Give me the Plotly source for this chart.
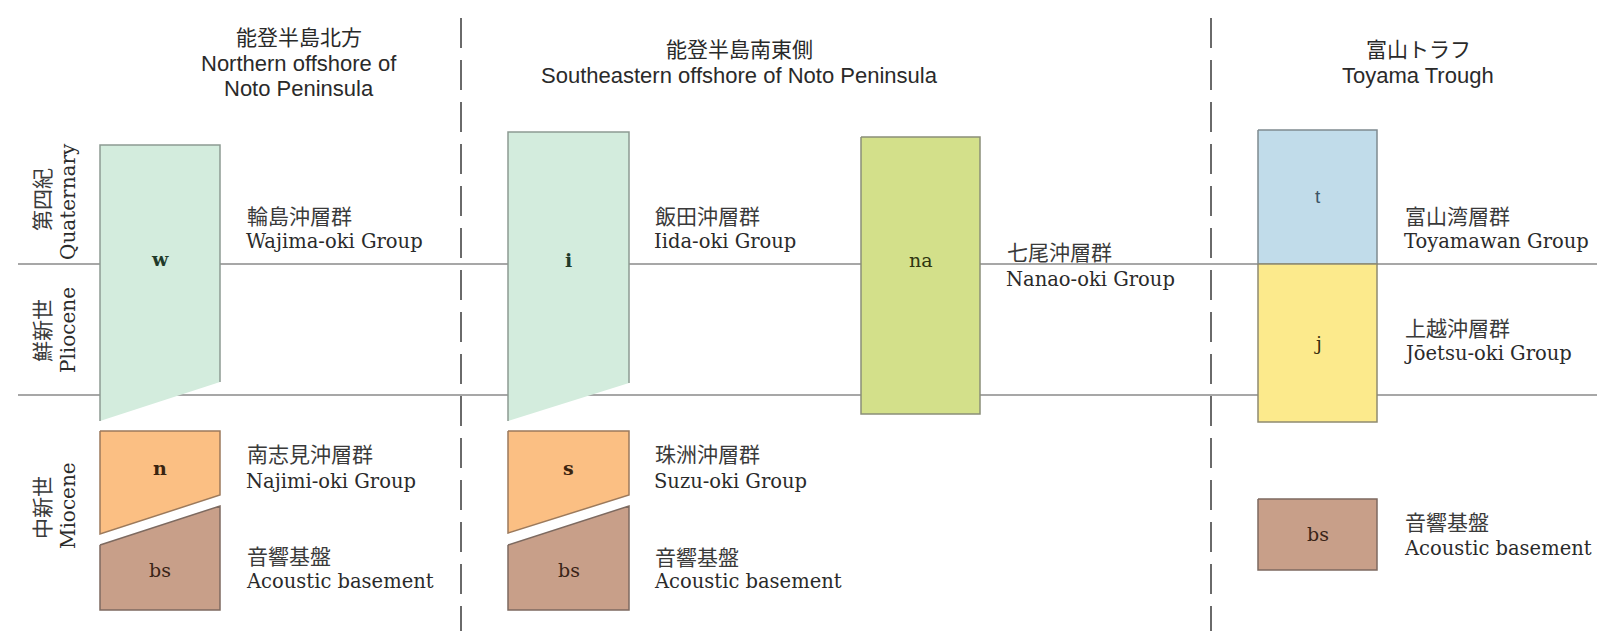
import plotly.graph_objects as go

# ---------------- data ----------------
# stratigraphic units: code, horizontal extent and top/bottom edges (left / right side)
unit_codes = ["w", "i", "na", "t", "j", "n", "s", "bs", "bs", "bs"]
unit_kind = ["wi", "wi", "na", "t", "j", "ns", "ns", "bs", "bs", "bs"]
unit_x_left = [92, 500, 853, 1250, 1250, 92, 500, 92, 500, 1250]
unit_x_right = [212, 621, 972, 1369, 1369, 212, 621, 212, 621, 1369]
unit_top_left = [137, 124, 129, 122, 256, 423, 423, 537, 537, 491]
unit_top_right = [137, 124, 129, 122, 256, 423, 423, 498, 498, 491]
unit_bot_left = [413, 413, 406, 256, 414, 526, 525, 602, 602, 562]
unit_bot_right = [374, 375, 406, 256, 414, 487, 487, 602, 602, 562]
unit_label_y = [251, 252, 252, 188, 335, 460, 460, 562, 562, 526]

# group names
group_jp = ["輪島沖層群", "飯田沖層群", "七尾沖層群", "富山湾層群", "上越沖層群",
            "南志見沖層群", "珠洲沖層群", "音響基盤", "音響基盤", "音響基盤"]
group_en = ["Wajima-oki Group", "Iida-oki Group", "Nanao-oki Group", "Toyamawan Group",
            "Jōetsu-oki Group", "Najimi-oki Group", "Suzu-oki Group",
            "Acoustic basement", "Acoustic basement", "Acoustic basement"]
group_x = [237, 645, 997, 1395, 1395, 237, 645, 237, 645, 1395]
group_jp_y = [207, 207, 243, 207, 319, 445, 445, 547, 548, 513]
group_en_y = [233, 233, 271, 233, 345, 473, 473, 573, 573, 540]

# regions (column headers)
region_lines = [["能登半島北方", "Northern offshore of", "Noto Peninsula"],
                ["能登半島南東側", "Southeastern offshore of Noto Peninsula"],
                ["富山トラフ", "Toyama Trough"]]
region_x = [291, 731, 1410]
region_y = [[28, 55, 80], [40, 67], [40, 67]]
region_dividers = [453, 1203]

# epochs
epoch_jp = ["第四紀", "鮮新世", "中新世"]
epoch_en = ["Quaternary", "Pliocene", "Miocene"]
epoch_y_jp = [192, 323, 500]
epoch_y_en = [194, 322, 498]
epoch_boundaries = [256, 387]

# ---------------- style ----------------
fill_col = {"wi": "#d3ecdd", "ns": "#fbbf83", "bs": "#c89f89", "na": "#d3e08a",
            "t": "#c1dcea", "j": "#fcea8c"}
edge_col = {"wi": "#8d9a92", "ns": "#9c7a5c", "bs": "#7d6a60", "na": "#8a8f78",
            "t": "#7f8a90", "j": "#8f8a70"}
label_col = {"wi": "#1f3a2a", "ns": "#3a2410", "bs": "#3a2418", "na": "#2e3510",
             "t": "#3c5566", "j": "#3a3010"}
label_weight = {"wi": "bold", "ns": "bold", "bs": "normal", "na": "normal",
                "t": "normal", "j": "normal"}
SERIF = "DejaVu Serif"
SANS = "Liberation Sans"
JP = "Noto Sans CJK JP"

fig = go.Figure()
W, H = 1605, 631

# epoch boundary lines
for yb in epoch_boundaries:
    fig.add_trace(go.Scatter(x=[10, W], y=[yb, yb], mode="lines",
                             line=dict(color="#8a8a8a", width=1.6), hoverinfo="skip"))
# region dividers
for xd in region_dividers:
    fig.add_trace(go.Scatter(x=[xd, xd], y=[10, H], mode="lines",
                             line=dict(color="#6a6a6a", width=2, dash="30px,12px"),
                             hoverinfo="skip"))

# units
for k in range(len(unit_codes)):
    xl, xr = unit_x_left[k], unit_x_right[k]
    tl, tr, bl, br = unit_top_left[k], unit_top_right[k], unit_bot_left[k], unit_bot_right[k]
    kind = unit_kind[k]
    fig.add_trace(go.Scatter(x=[xl, xr, xr, xl, xl], y=[tl, tr, br, bl, tl],
                             mode="lines", fill="toself", fillcolor=fill_col[kind],
                             line=dict(width=0, color=fill_col[kind]), hoverinfo="skip"))
    if kind == "wi":
        ox, oy = [xl, xl, xr, xr], [bl, tl, tr, br]
    else:
        ox, oy = [xl, xr, xr, xl, xl], [tl, tr, br, bl, tl]
    fig.add_trace(go.Scatter(x=ox, y=oy, mode="lines",
                             line=dict(width=1.5, color=edge_col[kind]), hoverinfo="skip"))
    fig.add_annotation(x=(xl + xr) / 2, y=unit_label_y[k], text=unit_codes[k],
                       showarrow=False, xanchor="center", yanchor="middle",
                       font=dict(family=SANS if kind == "t" else SERIF,
                                 size=19, weight=label_weight[kind],
                                 color=label_col[kind]))

# group names
for k in range(len(group_jp)):
    fig.add_annotation(x=group_x[k], y=group_jp_y[k], text=group_jp[k], showarrow=False,
                       xanchor="left", yanchor="middle",
                       font=dict(family=JP, size=21, color="#3a3a3a"))
    fig.add_annotation(x=group_x[k] - 1, y=group_en_y[k], text=group_en[k], showarrow=False,
                       xanchor="left", yanchor="middle",
                       font=dict(family=SERIF, size=19.5, color="#2a2a2a"))

# region headers
for r in range(len(region_lines)):
    for j, line in enumerate(region_lines[r]):
        fig.add_annotation(x=region_x[r], y=region_y[r][j], text=line, showarrow=False,
                           xanchor="center", yanchor="middle",
                           font=dict(family=JP if j == 0 else SANS, size=22 if j else 21,
                                     color="#2a2a2a"))

# epoch labels (rotated)
for e in range(len(epoch_jp)):
    fig.add_annotation(x=33, y=epoch_y_jp[e], text=epoch_jp[e], showarrow=False,
                       textangle=-90, xanchor="center", yanchor="middle",
                       font=dict(family=JP, size=21, color="#3a3a3a"))
    fig.add_annotation(x=60, y=epoch_y_en[e], text=epoch_en[e], showarrow=False,
                       textangle=-90, xanchor="center", yanchor="middle",
                       font=dict(family=SERIF, size=20, color="#2a2a2a"))

fig.update_layout(width=W, height=H, margin=dict(l=0, r=0, t=0, b=0),
                  paper_bgcolor="white", plot_bgcolor="white", showlegend=False)
fig.update_xaxes(range=[0, W], visible=False, fixedrange=True)
fig.update_yaxes(range=[H, 0], visible=False, fixedrange=True)
fig.write_html("out.html")
